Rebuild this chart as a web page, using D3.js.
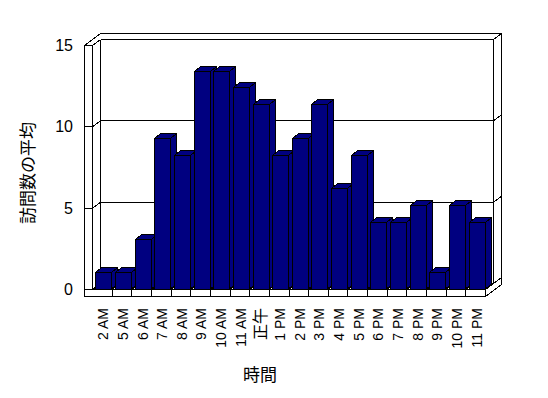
<!DOCTYPE html>
<html>
<head>
<meta charset="utf-8">
<script src="https://cdn.jsdelivr.net/npm/d3@7"></script>
<style>
body { margin: 0; background: #fff; }
svg { display: block; }
.wall { fill: #fff; stroke: #000; stroke-width: 1; }
.edge { stroke: #000; stroke-width: 1; fill: none; }
.bar { fill: #000080; stroke: #000; stroke-width: 1; stroke-linejoin: miter; }
.tick { font-family: "Liberation Sans", Arial, sans-serif; font-size: 14px; fill: #000; }
.ytick { font-family: "Liberation Sans", Arial, sans-serif; font-size: 16px; fill: #000; }
.title { font-family: "Noto Sans CJK JP", sans-serif; font-size: 17px; fill: #000; }
</style>
</head>
<body>
<svg width="548" height="398"></svg>
<script>
//categories (hours) and average visit counts
var hours = ["2 AM", "5 AM", "6 AM", "7 AM", "8 AM", "9 AM", "10 AM", "11 AM", "正午",
    "1 PM", "2 PM", "3 PM", "4 PM", "5 PM", "6 PM", "7 PM", "8 PM", "9 PM", "10 PM", "11 PM"];
var visits = [1, 1, 3, 9, 8, 13, 13, 12, 11, 8, 9, 11, 6, 8, 4, 4, 5, 1, 5, 4];
var yTicks = [0, 5, 10, 15];
var xTitle = "時間",
    yTitle = "訪問数の平均";

var svg = d3.select("svg");

//front plane of the 3d box
var x0 = 92.5,
    plotW = 393,
    wallT = 8,          //left wall thickness
    floorT = 7,         //floor thickness
    depth = [8, -6];    //offset front -> back plane

var scaleX = d3.scaleBand()
    .domain(hours)
    .range([x0, x0 + plotW]);
//walls and grid
var scaleY = d3.scaleLinear()
    .domain([0, 15])
    .range([289.5, 45.5]);
//bars stand a bit in front, slightly larger
var scaleBar = d3.scaleLinear()
    .domain([0, 15])
    .range([289, 37]);

function pt(x, y, z) {
    return [x + depth[0] * z, y + depth[1] * z];
}
function poly(points) {
    return "M" + points.map(p => p.join(",")).join("L") + "Z";
}
function line(a, b) {
    return "M" + a.join(",") + "L" + b.join(",");
}

var xl = x0 - wallT,
    xr = x0 + plotW,
    yTop = scaleY(15),
    yBot = scaleY(0),
    yFloor = yBot + floorT;

var gBox = svg.append("g").attr("shape-rendering", "crispEdges");

//outer outline of walls + floor
gBox.append("path")
    .attr("class", "wall")
    .attr("d", poly([
        [xl, yTop], pt(xl, yTop, 2), pt(xr, yTop, 2), pt(xr, yFloor, 2),
        [xr, yFloor], [xl, yFloor]
    ]));

var edges = [
    //left wall front face
    [[x0, yTop], [x0, yBot]],
    [[x0, yTop], pt(x0, yTop, 1)],
    //back wall face
    [pt(x0, yTop, 1), pt(xr, yTop, 1)],
    [pt(xr, yTop, 1), pt(xr, yBot, 1)],
    [pt(x0, yTop, 1), pt(x0, yBot, 1)],
    [pt(x0, yBot, 1), pt(xr, yBot, 1)],
    [pt(xr, yTop, 1), pt(xr, yTop, 2)],
    //floor
    [[xl, yBot], [xr, yBot]],
    [[xr, yBot], [xr, yFloor]],
    [[xr, yBot], pt(xr, yBot, 1)],
    [pt(xr, yBot, 1), pt(xr, yBot, 2)],
    [[x0, yBot], pt(x0, yBot, 1)]
];

//gridlines
yTicks.filter(v => v > 0).forEach(function (v) {
    var y = scaleY(v);
    edges.push([[xl, y], [x0, y]]);
    edges.push([[x0, y], pt(x0, y, 1)]);
    edges.push([pt(x0, y, 1), pt(xr, y, 1)]);
    edges.push([pt(xr, y, 1), pt(xr, y, 2)]);
});

//category dividers on the floor
hours.forEach(function (h, i) {
    if (i === 0) return;
    var x = scaleX(h);
    edges.push([[x, yBot], [x, yFloor]]);
    edges.push([[x, yBot], pt(x, yBot, 1)]);
});

gBox.selectAll("path.edge")
    .data(edges)
    .enter().append("path")
    .attr("class", "edge")
    .attr("d", d => line(d[0], d[1]));

//bars, left to right so each covers the side of the previous one
var barW = 16,
    barD = [6, -5],
    barShift = (scaleX.bandwidth() - barW) / 2 + 1;

var gBars = svg.append("g").attr("shape-rendering", "crispEdges");
var bars = gBars.selectAll("g")
    .data(hours.map((h, i) => ({ hour: h, value: visits[i] })))
    .enter().append("g");

bars.each(function (d) {
    var g = d3.select(this),
        xa = Math.round(scaleX(d.hour) + barShift) + 0.5,
        xb = xa + barW,
        yt = Math.round(scaleBar(d.value)) + 0.5,
        yb = scaleBar(0);
    //side
    g.append("path").attr("class", "bar")
        .attr("d", poly([[xb, yt], [xb + barD[0], yt + barD[1]], [xb + barD[0], yb + barD[1]], [xb, yb]]));
    //top
    g.append("path").attr("class", "bar")
        .attr("d", poly([[xa, yt], [xa + barD[0], yt + barD[1]], [xb + barD[0], yt + barD[1]], [xb, yt]]));
    //front
    g.append("path").attr("class", "bar")
        .attr("d", poly([[xa, yt], [xb, yt], [xb, yb], [xa, yb]]));
});

//y tick labels
svg.selectAll("text.ytick")
    .data(yTicks)
    .enter().append("text")
    .attr("class", "ytick")
    .attr("text-anchor", "end")
    .attr("x", 73)
    .attr("y", d => scaleY(d))
    .attr("dy", "0.35em")
    .text(d => d);

//x tick labels (rotated)
svg.selectAll("text.tick")
    .data(hours)
    .enter().append("text")
    .attr("class", "tick")
    .attr("text-anchor", "end")
    .attr("transform", d => "translate(" + [scaleX(d) + scaleX.bandwidth() / 2 + 1, 308] + ") rotate(-90)")
    .attr("dy", "0.35em")
    .style("font-family", d => /[^\x00-\x7f]/.test(d) ? "'Noto Sans CJK JP', sans-serif" : null)
    .style("font-size", d => /[^\x00-\x7f]/.test(d) ? "16px" : null)
    .text(d => d);

//axis titles
svg.append("text")
    .attr("class", "title")
    .attr("text-anchor", "middle")
    .attr("x", 260)
    .attr("y", 375)
    .attr("dy", "0.35em")
    .text(xTitle);

svg.append("text")
    .attr("class", "title")
    .attr("text-anchor", "middle")
    .attr("transform", "translate(28,173) rotate(-90)")
    .attr("dy", "0.35em")
    .text(yTitle);
</script>
</body>
</html>
